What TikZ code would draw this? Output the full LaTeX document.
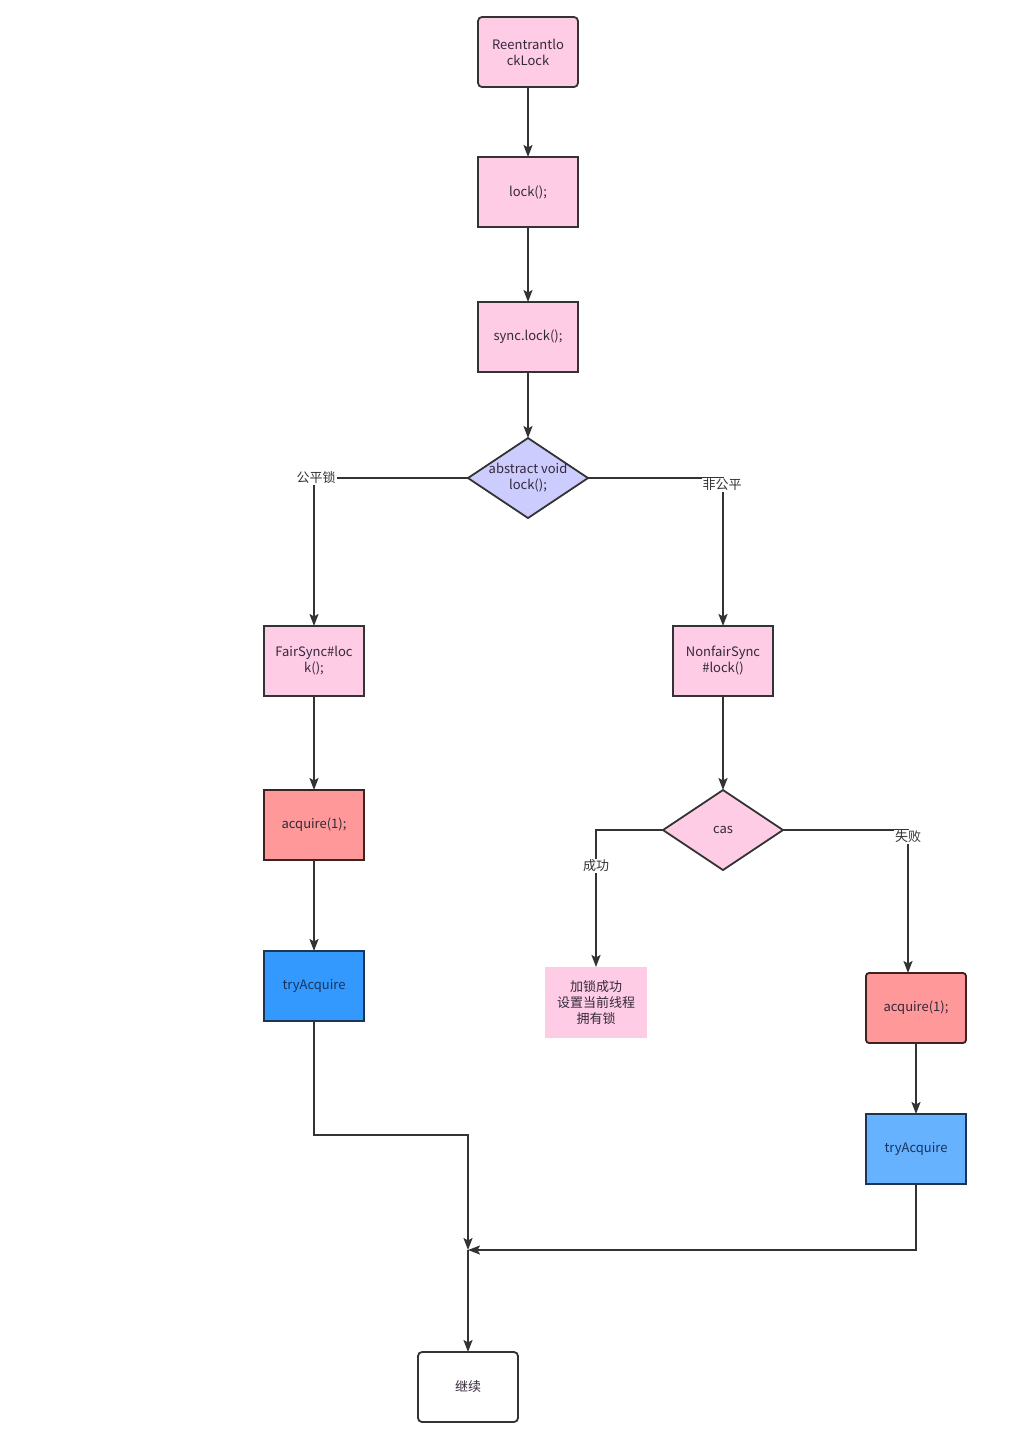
\documentclass[tikz,border=0pt]{standalone}
\usepackage{fontspec}
\setmainfont{Noto Sans CJK SC}
\usetikzlibrary{positioning,arrows.meta,shapes.geometric}
\definecolor{edge}{HTML}{333333}
\definecolor{txt}{HTML}{33283A}
\definecolor{pinkfill}{HTML}{FFCCE6}
\definecolor{lavender}{HTML}{CCCCFF}
\definecolor{salmon}{HTML}{FF9999}
\definecolor{salmonedge}{HTML}{3D2222}
\definecolor{bluefill}{HTML}{3399FF}
\definecolor{lightblue}{HTML}{66B2FF}
\definecolor{blueedge}{HTML}{1B3552}
\definecolor{bluetxt}{HTML}{17335C}
\tikzset{
>={Stealth[length=12pt,width=9pt,inset=2.5pt]},
box/.style={ rectangle, draw=edge, line width=1.8pt, outer sep=0pt, minimum width=100pt, minimum height=70pt, inner sep=2pt, text width=90pt, align=center, font=\fontsize{13}{16}\selectfont, text=txt},
pinkbox/.style={ box, fill=pinkfill},
redbox/.style={ box, fill=salmon, draw=salmonedge},
bluebox/.style={ box, fill=bluefill, draw=blueedge, text=bluetxt},
decide/.style={ diamond, draw=edge, line width=1.8pt, outer sep=0pt, minimum width=120pt, minimum height=80pt, inner sep=0pt, aspect=1.5},
line/.style={draw=edge, line width=2pt, ->},
tag/.style={fill=white, inner sep=1pt, font=\fontsize{13}{16}\selectfont, text=edge},
}
\begin{document}
\begin{tikzpicture}
[x=1pt, y=-1pt]
\useasboundingbox (0,0) rectangle (1021,1436);

% main chain
\node[pinkbox, rounded corners=4pt] (reent) at (528,52) {Reentrantlo\\ckLock};
\node[pinkbox, below=70pt of reent] (lock) {lock();};
\node[pinkbox, below=75pt of lock] (sync) {sync.lock();};
\node[decide, fill=lavender, below=66pt of sync,
  label={[align=center, font=\fontsize{13}{16}\selectfont, text=txt]center:abstract void\\lock();}] (abs) {};

% fair branch
\node[pinkbox] (fair) at (314,661) {FairSync\#loc\\k();};
\node[redbox, below=94pt of fair] (acqL) {acquire(1);};
\node[bluebox, below=91pt of acqL] (tryL) {tryAcquire};

% nonfair branch
\node[pinkbox] (nonfair) at (723,661) {NonfairSync\\\#lock()};
\node[decide, fill=pinkfill, below=94pt of nonfair,
  label={[font=\fontsize{13}{16}\selectfont, text=txt]center:cas}] (cas) {};
\node[box, draw=none, fill=pinkfill, minimum width=102pt, minimum height=71pt] (okbox) at (596,1002.5) {加锁成功\\设置当前线程\\拥有锁};
\node[redbox, rounded corners=3pt] (acqR) at (916,1008) {acquire(1);};
\node[bluebox, fill=lightblue, below=71pt of acqR] (tryR) {tryAcquire};

\node[box, rounded corners=4pt, fill=white] (cont) at (468,1387) {继续};
\coordinate (join) at (468,1250);

% connectors
\draw[line] (reent) -- (lock);
\draw[line] (lock) -- (sync);
\draw[line] (sync) -- (abs);
\draw[line] (abs.west) -| (fair.north);
\draw[line] (abs.east) -| (nonfair.north);
\draw[line] (fair) -- (acqL);
\draw[line] (acqL) -- (tryL);
\draw[line] (nonfair) -- (cas);
\draw[line] (cas.west) -| (okbox.north);
\draw[line] (cas.east) -| ([xshift=-8pt]acqR.north);
\draw[line] (acqR) -- (tryR);
\draw[line] (tryL.south) -- ++(0,114) -| (join);
\draw[line] (tryR.south) |- (join);
\draw[line] (join) -- (cont);

% branch tags
\node[tag] (fairTag) at (316,478) {公平锁};
\node[tag] (nonfairTag) at (722,485) {非公平};
\node[tag] (okTag) at (596,866) {成功};
\node[tag] (failTag) at (908,837) {失败};

\end{tikzpicture}
\end{document}
